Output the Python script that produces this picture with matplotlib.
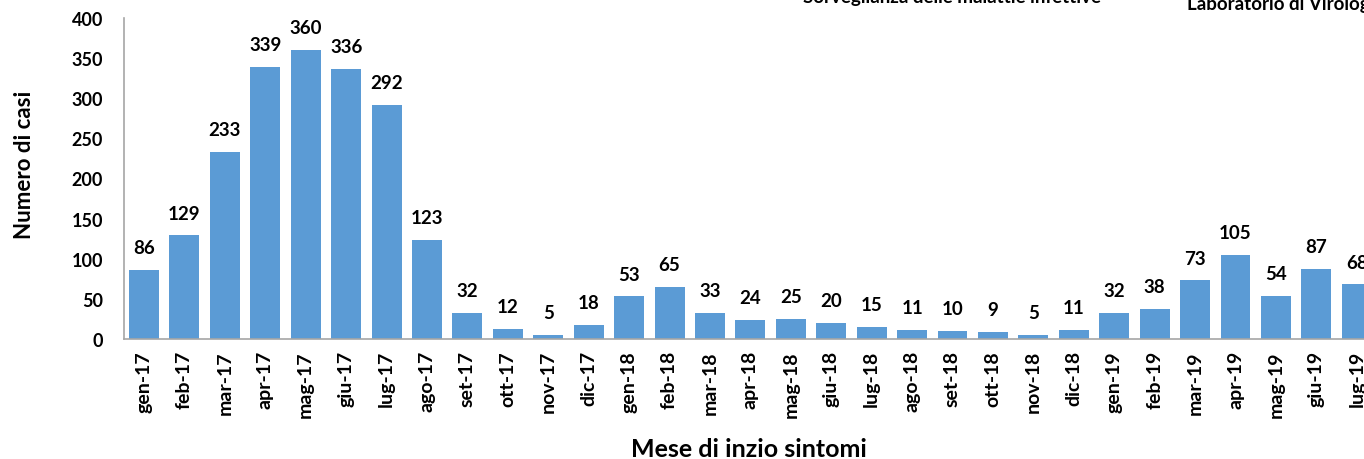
import matplotlib
matplotlib.use("Agg")
import matplotlib.pyplot as plt

plt.rcParams['font.family'] = ['Lato', 'DejaVu Sans']
plt.rcParams['font.weight'] = 'bold'

# months of symptom onset and case counts
mesi = ['gen-17', 'feb-17', 'mar-17', 'apr-17', 'mag-17', 'giu-17', 'lug-17', 'ago-17',
        'set-17', 'ott-17', 'nov-17', 'dic-17', 'gen-18', 'feb-18', 'mar-18', 'apr-18',
        'mag-18', 'giu-18', 'lug-18', 'ago-18', 'set-18', 'ott-18', 'nov-18', 'dic-18',
        'gen-19', 'feb-19', 'mar-19', 'apr-19', 'mag-19', 'giu-19', 'lug-19']
casi = [86, 129, 233, 339, 360, 336, 292, 123,
        32, 12, 5, 18, 53, 65, 33, 24,
        25, 20, 15, 11, 10, 9, 5, 11,
        32, 38, 73, 105, 54, 87, 68]
y_ticks = [0, 50, 100, 150, 200, 250, 300, 350, 400]

W, H = 1364, 460
fig = plt.figure(figsize=(W / 100, H / 100), dpi=100)

# axes runs past the right edge of the picture (reference is cropped)
left, right = 123.8, 1377.0
top, bottom = 19, 340
ax = fig.add_axes([left / W, 1 - bottom / H, (right - left) / W, (bottom - top) / H])

x = range(len(mesi))
ax.bar(x, casi, width=0.74, color='#5B9BD5')

for xi, v in zip(x, casi):
    ax.annotate(str(v), (xi, v), xytext=(0, 10), textcoords='offset points',
                ha='center', va='bottom', fontsize=13.5, fontweight='bold')

ax.set_xlim(-0.5, len(mesi) - 0.5)
ax.set_ylim(0, 400)
ax.set_yticks(y_ticks)
ax.set_xticks(list(x))
ax.set_xticklabels(mesi, rotation=90, fontsize=14, fontweight='bold')
ax.tick_params(axis='both', length=0)
ax.tick_params(axis='y', labelsize=13, pad=15)
ax.tick_params(axis='x', pad=8)
for lbl in ax.get_yticklabels():
    lbl.set_fontweight('bold')

for s in ['top', 'right']:
    ax.spines[s].set_visible(False)
for s in ['left', 'bottom']:
    ax.spines[s].set_color('#a6a6a6')
    ax.spines[s].set_linewidth(1.2)

fig.text(25 / W, 1 - 165 / H, 'Numero di casi', rotation=90, ha='center', va='center',
         fontsize=16, fontweight='bold')
fig.text(749 / W, 1 - 450 / H, 'Mese di inzio sintomi', ha='center', va='center',
         fontsize=18, fontweight='bold')

# cropped header texts at the top, as in the reference
fig.text(952 / W, 1 - 3 / H, 'Sorveglianza delle malattie infettive', ha='center',
         va='baseline', fontsize=13.5, fontweight='bold')
fig.text(1187 / W, 1 - 10 / H, 'Laboratorio di Virologia', ha='left',
         va='baseline', fontsize=13.5, fontweight='bold')

fig.savefig('out.png', dpi=100)
